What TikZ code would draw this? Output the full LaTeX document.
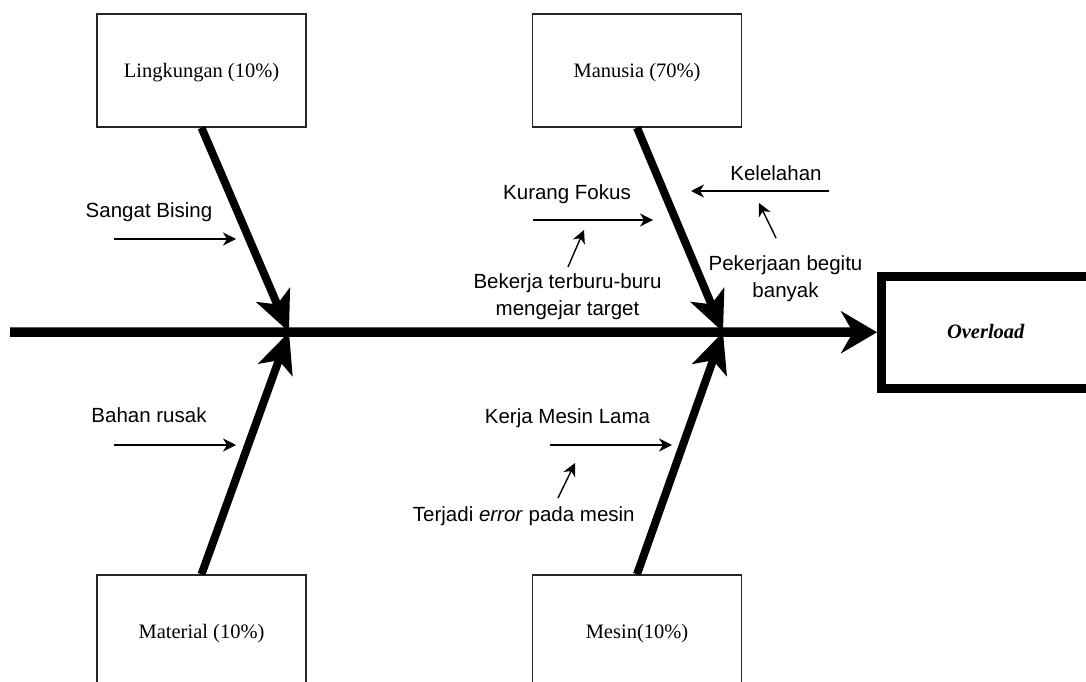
\documentclass[tikz,border=0pt]{standalone}
\usepackage{fontspec}
\setmainfont{Liberation Serif}
\newfontfamily\lsans{Liberation Sans}
\usetikzlibrary{arrows.meta}
\begin{document}
\begin{tikzpicture}[x=1pt,y=-1pt,
 catbox/.style={draw=black!85, line width=1.4pt, minimum width=209pt, minimum height=113pt, inner sep=0pt, font=\fontsize{20.5}{24}\selectfont, text height=14pt, text depth=0pt},
 effbox/.style={draw, line width=9pt, minimum width=208.5pt, minimum height=111.5pt, inner sep=0pt, font=\fontsize{20.5}{24}\selectfont\bfseries\itshape, text height=12pt, text depth=0pt},
 bone/.style={line width=8pt, -{Stealth[length=40pt,width=36pt,inset=10pt]}},
 spine/.style={line width=9.5pt, -{Stealth[length=36pt,width=42pt,inset=12pt]}},
 cause/.style={line width=1.4pt, -{Stealth[length=13pt,width=13pt,inset=4pt]}},
 lbl/.style={font=\lsans\fontsize{20.5}{27}\selectfont, inner sep=0pt, align=center},
]
\clip (0,0) rectangle (1086,682);
% category boxes
\node[catbox] (L)  at (201.5,70.5)  {Lingkungan (10\%)};
\node[catbox] (M)  at (637,70.5)    {Manusia (70\%)};
\node[catbox] (Ma) at (201.5,631.5) {Material (10\%)};
\node[catbox] (Me) at (637,631.5)   {Mesin(10\%)};
% effect box
\node[effbox] (O) at (985.75,332.25) {Overload};
% spine and bones
\coordinate (s0) at (10,332);
\coordinate (j1) at (289,332);
\coordinate (j2) at (723,332);
\draw[spine] (s0) -- (O.west);
\draw[bone] (L.south) -- (j1);
\draw[bone] (Ma.north) -- (j1);
\draw[bone] (M.south) -- (j2);
\draw[bone] (Me.north) -- (j2);
% labels
\node[lbl, anchor=base] (sb) at (149,217) {Sangat Bising};
\node[lbl, anchor=base] (br) at (149,422.7) {Bahan rusak};
\node[lbl, anchor=base] (kf) at (567,199) {Kurang Fokus};
\node[lbl, anchor=base] (kl) at (776,180) {Kelelahan};
\node[lbl] (bk) at (567.5,296.7) {Bekerja terburu-buru\\mengejar target};
\node[lbl] (pb) at (785.5,278.2) {Pekerjaan begitu\\banyak};
\node[lbl, anchor=base] (km) at (567.5,423) {Kerja Mesin Lama};
\node[lbl, anchor=base] (te) at (523.8,521.7) {Terjadi \textit{error} pada mesin};
% cause arrows
\coordinate (a1s) at (114,239);  \coordinate (a1e) at (236,239);
\coordinate (a2s) at (114,445);  \coordinate (a2e) at (236,445);
\coordinate (a3s) at (533,220);  \coordinate (a3e) at (653,220);
\coordinate (a4s) at (829,191);  \coordinate (a4e) at (691,191);
\coordinate (a5s) at (776,238);  \coordinate (a5e) at (759,203);
\coordinate (a6s) at (568,267);  \coordinate (a6e) at (584,230);
\coordinate (a7s) at (550,445);  \coordinate (a7e) at (672,445);
\coordinate (a8s) at (558,498);  \coordinate (a8e) at (575,463);
\draw[cause] (a1s) -- (a1e);
\draw[cause] (a2s) -- (a2e);
\draw[cause] (a3s) -- (a3e);
\draw[cause] (a4s) -- (a4e);
\draw[cause] (a5s) -- (a5e);
\draw[cause] (a6s) -- (a6e);
\draw[cause] (a7s) -- (a7e);
\draw[cause] (a8s) -- (a8e);
\end{tikzpicture}
\end{document}
